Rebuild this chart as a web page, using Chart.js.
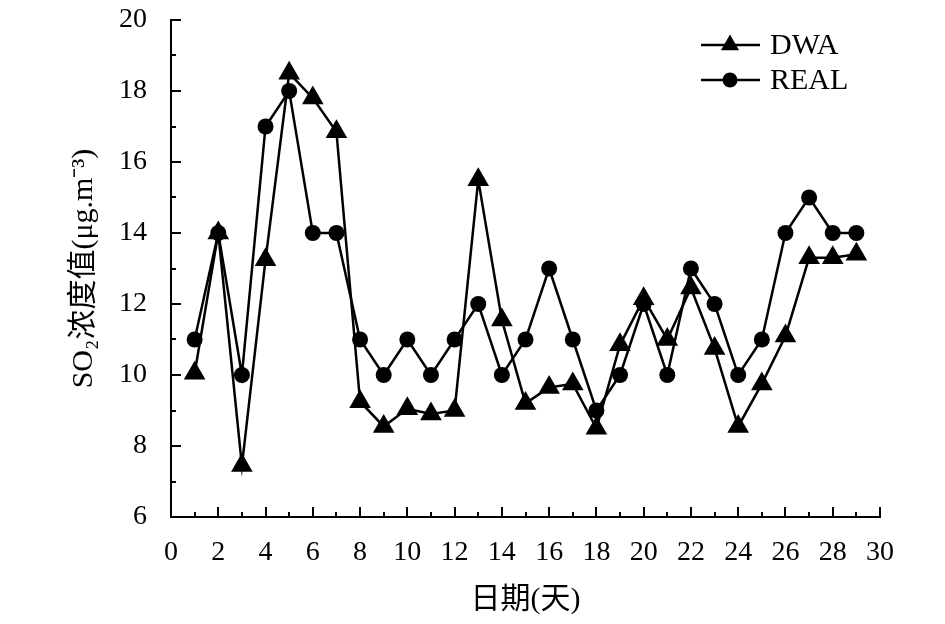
<!DOCTYPE html>
<html>
<head>
<meta charset="utf-8">
<script src="https://cdn.jsdelivr.net/npm/chart.js@4.4.1/dist/chart.umd.min.js"></script>
<style>
  html, body { margin: 0; padding: 0; background: #fff; }
  #wrap { width: 945px; height: 624px; }
</style>
</head>
<body>
<div id="wrap"><canvas id="chart" width="945" height="624"></canvas></div>
<script>
// data
const days = [1, 2, 3, 4, 5, 6, 7, 8, 9, 10, 11, 12, 13, 14, 15, 16, 17, 18, 19, 20, 21, 22, 23, 24, 25, 26, 27, 28, 29];
const dwa = [10.05, 14.0, 7.45, 13.25, 18.5, 17.8, 16.85, 9.25, 8.55, 9.05, 8.9, 9.0, 15.5, 11.55, 9.2, 9.65, 9.75, 8.5, 10.85, 12.15, 11.0, 12.45, 10.75, 8.55, 9.75, 11.1, 13.3, 13.3, 13.4];
const real = [11, 14, 10, 17, 18, 14, 14, 11, 10, 11, 10, 11, 12, 10, 11, 13, 11, 9, 10, 12, 10, 13, 12, 10, 11, 14, 15, 14, 14];
const seriesNames = ['DWA', 'REAL'];
const xTitle = '日期(天)';
const yTitle = 'SO₂浓度值(μg.m⁻³)';

const FONT = '"Liberation Serif", "Times New Roman", "Noto Sans CJK SC", serif';

const toPoints = vals => vals.map((v, i) => ({ x: days[i], y: v }));

// tick marks pointing into the plot, long on even values, short on odd
const innerTicks = {
  id: 'innerTicks',
  afterDraw(chart) {
    const ctx = chart.ctx;
    const xs = chart.scales.x, ys = chart.scales.y;
    ctx.save();
    ctx.strokeStyle = '#000';
    ctx.lineWidth = 2;
    for (let v = xs.min; v <= xs.max; v++) {
      const px = Math.round(xs.getPixelForValue(v));
      const len = v % 2 === 0 ? 10 : 5;
      ctx.beginPath();
      ctx.moveTo(px, ys.bottom);
      ctx.lineTo(px, ys.bottom - len);
      ctx.stroke();
    }
    for (let v = ys.min; v <= ys.max; v++) {
      const py = Math.round(ys.getPixelForValue(v));
      const len = v % 2 === 0 ? 10 : 5;
      ctx.beginPath();
      ctx.moveTo(xs.left, py);
      ctx.lineTo(xs.left + len, py);
      ctx.stroke();
    }
    ctx.restore();
  }
};

// legend in the upper right: line + marker + name
const lineLegend = {
  id: 'lineLegend',
  afterDraw(chart) {
    const ctx = chart.ctx;
    const area = chart.chartArea;
    const x0 = area.right - 179;
    ctx.save();
    chart.data.datasets.forEach((ds, i) => {
      const y = area.top + 25 + i * 35;
      ctx.strokeStyle = '#000';
      ctx.lineWidth = 2.5;
      ctx.beginPath();
      ctx.moveTo(x0, y);
      ctx.lineTo(x0 + 59, y);
      ctx.stroke();
      ctx.fillStyle = '#000';
      Chart.helpers.drawPoint(ctx, {
        pointStyle: ds.pointStyle,
        radius: ds.pointStyle === 'triangle' ? 10.5 : 7.5,
        rotation: 0,
        borderWidth: 0
      }, x0 + 29, y);
      ctx.font = '30px ' + FONT;
      ctx.textBaseline = 'middle';
      ctx.textAlign = 'left';
      ctx.fillText(ds.label, x0 + 69, y + 1);
    });
    ctx.restore();
  }
};

new Chart(document.getElementById('chart').getContext('2d'), {
  type: 'scatter',
  data: {
    datasets: [
      {
        label: seriesNames[0],
        data: toPoints(dwa),
        showLine: true,
        borderColor: '#000',
        backgroundColor: '#000',
        borderWidth: 2.5,
        pointStyle: 'triangle',
        pointRadius: 12.5,
        pointBorderWidth: 0,
        tension: 0
      },
      {
        label: seriesNames[1],
        data: toPoints(real),
        showLine: true,
        borderColor: '#000',
        backgroundColor: '#000',
        borderWidth: 2.5,
        pointStyle: 'circle',
        pointRadius: 8,
        pointBorderWidth: 0,
        tension: 0
      }
    ]
  },
  options: {
    responsive: false,
    animation: false,
    layout: { padding: { top: 20, right: 65, left: 0, bottom: 0 } },
    plugins: {
      legend: { display: false },
      tooltip: { enabled: false }
    },
    scales: {
      x: {
        type: 'linear',
        min: 0,
        max: 30,
        afterFit: s => { s.height = 107; s.paddingLeft = 0; s.paddingRight = 0; },
        grid: { display: true, drawOnChartArea: false, drawTicks: false },
        border: { display: true, color: '#000', width: 2 },
        ticks: {
          stepSize: 1,
          autoSkip: false,
          maxRotation: 0,
          padding: 19,
          color: '#000',
          font: { family: FONT, size: 28 },
          callback: v => (v % 2 === 0 ? String(v) : '')
        },
        title: {
          display: true,
          text: xTitle,
          color: '#000',
          font: { family: FONT, size: 30 },
          padding: { top: 0, bottom: 6 }
        }
      },
      y: {
        min: 6,
        max: 20,
        afterFit: s => { s.width = 171; s.paddingTop = 0; s.paddingBottom = 0; },
        grid: { display: true, drawOnChartArea: false, drawTicks: false },
        border: { display: true, color: '#000', width: 2 },
        ticks: {
          stepSize: 1,
          autoSkip: false,
          padding: 24,
          color: '#000',
          font: { family: FONT, size: 28 },
          callback: v => (v % 2 === 0 ? String(v) : '')
        },
        title: {
          display: true,
          text: yTitle,
          color: '#000',
          font: { family: FONT, size: 30 },
          padding: { top: 66, bottom: 0 }
        }
      }
    }
  },
  plugins: [innerTicks, lineLegend]
});
</script>
</body>
</html>
